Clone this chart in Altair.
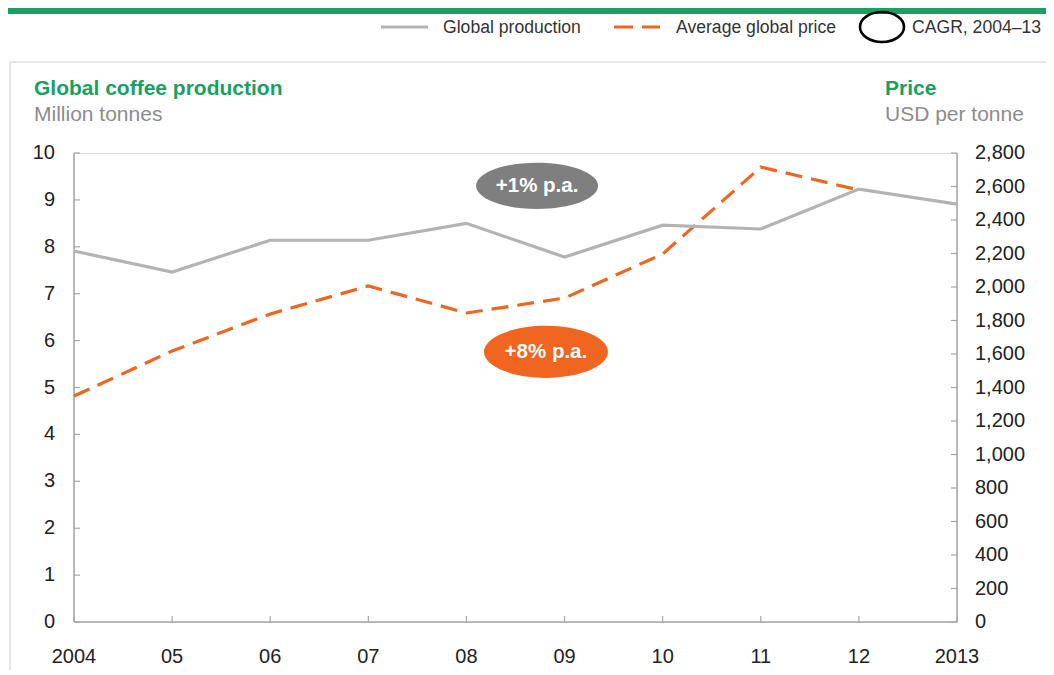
import altair as alt
import pandas as pd

# ---- data ----
years = [2004, 2005, 2006, 2007, 2008, 2009, 2010, 2011, 2012, 2013]
year_labels = ["2004", "05", "06", "07", "08", "09", "10", "11", "12", "2013"]
production = [7.91, 7.46, 8.14, 8.14, 8.50, 7.78, 8.46, 8.38, 9.23, 8.91]
price_years = [2004, 2005, 2006, 2007, 2008, 2009, 2010, 2011, 2012]
price = [1349, 1618, 1839, 2006, 1845, 1934, 2197, 2716, 2579]
left_ticks = [0, 1, 2, 3, 4, 5, 6, 7, 8, 9, 10]
right_ticks = [0, 200, 400, 600, 800, 1000, 1200, 1400, 1600, 1800, 2000, 2200, 2400, 2600, 2800]
right_labels = ["0", "200", "400", "600", "800", "1,000", "1,200", "1,400", "1,600",
                "1,800", "2,000", "2,200", "2,400", "2,600", "2,800"]
cagr_labels = ["+1% p.a.", "+8% p.a."]
cagr_x = [2008.72, 2008.81]
cagr_y = [9.30, 5.76]

GREEN = "#1a9f62"
GRAY_LINE = "#b3b3b3"
ORANGE = "#f0651f"
AX = "#a6a6a6"
TXT = "#222222"
FONT = "Liberation Sans"

W, H = 883, 469
XDOM = [2004, 2013]

prod_df = pd.DataFrame({"year": years, "value": production})
price_df = pd.DataFrame({"year": price_years, "value": price})
lt_df = pd.DataFrame({"v": left_ticks, "lab": [str(v) for v in left_ticks]})
rt_df = pd.DataFrame({"v": right_ticks, "lab": right_labels})
xt_df = pd.DataFrame({"year": years, "lab": year_labels})
cagr_df = pd.DataFrame({"label": cagr_labels, "x": cagr_x, "y": cagr_y})

xscale = alt.Scale(domain=XDOM, nice=False, zero=False)
lscale = alt.Scale(domain=[0, 10], nice=False)
rscale = alt.Scale(domain=[0, 2800], nice=False)

X = lambda f: alt.X(f, scale=xscale, axis=None)
YL = lambda f: alt.Y(f, scale=lscale, axis=None)
YR = lambda f: alt.Y(f, scale=rscale, axis=None)

one = pd.DataFrame({"a": [0]})

# axis lines
axis_lines = [
    alt.Chart(one).mark_rule(color=AX, strokeWidth=1.5).encode(
        x=alt.value(0), y=alt.value(0), y2=alt.value(H)),
    alt.Chart(one).mark_rule(color=AX, strokeWidth=1.5).encode(
        x=alt.value(W), y=alt.value(0), y2=alt.value(H)),
    alt.Chart(one).mark_rule(color=AX, strokeWidth=1.5).encode(
        x=alt.value(0), x2=alt.value(W), y=alt.value(H)),
]

# inward tick marks
lticks = alt.Chart(lt_df).mark_rule(color=AX, strokeWidth=1.2).encode(
    y=YL("v:Q"), x=alt.value(0), x2=alt.value(6))
rticks = alt.Chart(rt_df).mark_rule(color=AX, strokeWidth=1.2).encode(
    y=YR("v:Q"), x=alt.value(W - 6), x2=alt.value(W))
xticks = alt.Chart(xt_df).mark_rule(color=AX, strokeWidth=1.2).encode(
    x=X("year:Q"), y=alt.value(H - 6), y2=alt.value(H))

# tick labels
llabels = alt.Chart(lt_df).mark_text(font=FONT, fontSize=20, color=TXT, align="right",
                                     baseline="middle").encode(
    y=YL("v:Q"), x=alt.value(-19), text="lab:N")
rlabels = alt.Chart(rt_df).mark_text(font=FONT, fontSize=20, color=TXT, align="left",
                                     baseline="middle").encode(
    y=YR("v:Q"), x=alt.value(W + 18), text="lab:N")
xlabels = alt.Chart(xt_df).mark_text(font=FONT, fontSize=20, color=TXT, align="center",
                                     baseline="alphabetic").encode(
    x=X("year:Q"), y=alt.value(H + 41), text="lab:N")

# series
prod_line = alt.Chart(prod_df).mark_line(color=GRAY_LINE, strokeWidth=3.2).encode(
    x=X("year:Q"), y=YL("value:Q"))
price_line = alt.Chart(price_df).mark_line(color=ORANGE, strokeWidth=3.2,
                                           strokeDash=[17, 9]).encode(
    x=X("year:Q"), y=YR("value:Q"))

ell_path = lambda r: "M-1,0 A1,%s 0 1,1 1,0 A1,%s 0 1,1 -1,0 Z" % (r, r)

cagr_gray = alt.Chart(cagr_df.iloc[[0]]).mark_point(
    shape=ell_path(0.38), filled=True, fill="#7f7f7f", opacity=1, size=122 * 122,
    strokeWidth=0).encode(x=X("x:Q"), y=YL("y:Q"))
cagr_orange = alt.Chart(cagr_df.iloc[[1]]).mark_point(
    shape=ell_path(0.42), filled=True, fill=ORANGE, opacity=1, size=124 * 124,
    strokeWidth=0).encode(x=X("x:Q"), y=YL("y:Q"))
cagr_text = alt.Chart(cagr_df).mark_text(
    color="white", font=FONT, fontSize=20.5, fontWeight="bold", baseline="middle").encode(
    x=X("x:Q"), y=YL("y:Q"), text="label:N")

# decorations (titles, legend, frame)
def txt(s, x, y, size, color, weight="normal", align="left"):
    return alt.Chart(pd.DataFrame({"t": [s]})).mark_text(
        font=FONT, fontSize=size, color=color, fontWeight=weight, align=align,
        baseline="alphabetic").encode(text="t:N", x=alt.value(x), y=alt.value(y))

green_bar = alt.Chart(one).mark_rect(color=GREEN).encode(
    x=alt.value(-66), x2=alt.value(W + 89), y=alt.value(-145), y2=alt.value(-139))
frame = alt.Chart(one).mark_rect(
    fill=None, stroke="#e6e6e6", strokeWidth=2).encode(
    x=alt.value(-64), x2=alt.value(W + 120), y=alt.value(-91), y2=alt.value(H + 120))

leg_gray = alt.Chart(one).mark_rule(color=GRAY_LINE, strokeWidth=3).encode(
    x=alt.value(307), x2=alt.value(354), y=alt.value(-126))
leg_orange = alt.Chart(one).mark_rule(
    color=ORANGE, strokeWidth=3, strokeDash=[19, 9]).encode(
    x=alt.value(540), x2=alt.value(586), y=alt.value(-126))
leg_circle = alt.Chart(one).mark_point(
    shape=ell_path(0.68), filled=False, stroke="black", strokeWidth=2.6, size=44 * 44,
    opacity=1).encode(x=alt.value(808), y=alt.value(-126))

layers = [
    frame, green_bar,
    txt("Global production", 369, -120, 17.6, "#333333"),
    txt("Average global price", 602, -120, 17.6, "#333333"),
    txt("CAGR, 2004\u201313", 838, -120, 17.6, "#333333"),
    leg_gray, leg_orange, leg_circle,
    txt("Global coffee production", -40, -58, 21, GREEN, "bold"),
    txt("Million tonnes", -40, -32, 21, "#8c8c8c"),
    txt("Price", 811, -58, 21, GREEN, "bold"),
    txt("USD per tonne", 811, -32, 21, "#8c8c8c"),
    *axis_lines,
    lticks, rticks, xticks,
    llabels, rlabels, xlabels,
    price_line, prod_line,
    cagr_gray, cagr_orange, cagr_text,
]

chart = alt.layer(*layers).resolve_scale(y="independent").properties(
    width=W, height=H,
    autosize=alt.AutoSizeParams(type="none"),
    padding={"left": 66, "top": 145, "right": 89, "bottom": 48},
).configure_view(stroke=None).configure(background="white")

chart.save("out.html", embed_options={"renderer": "svg", "actions": False})
